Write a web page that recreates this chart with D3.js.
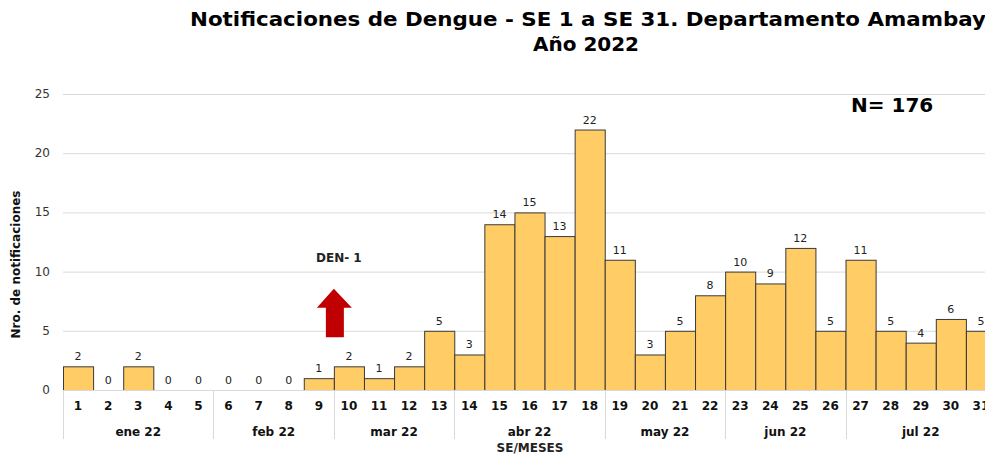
<html>
<head>
<script src="https://d3js.org/d3.v7.min.js"></script>
<style>
  body { margin: 0; background: #fff; }
  svg { display: block; font-family: "DejaVu Sans", Verdana, sans-serif; }
</style>
</head>
<body>
<svg></svg>
<script>
  // semanas epidemiologicas y casos
  const weeks = d3.range(1, 32).map(String);
  const cases = [2,0,2,0,0,0,0,0,1,2,1,2,5,3,14,15,13,22,11,3,5,8,10,9,12,5,11,5,4,6,5];
  const months = ["ene 22","feb 22","mar 22","abr 22","may 22","jun 22","jul 22"];
  const monthWeeks = [5,4,4,5,4,4,5];
  const yTicks = [0,5,10,15,20,25];

  const width = 985, height = 455;
  const plotLeft = 63, plotRight = 996, plotTop = 94, plotBottom = 390;

  const svg = d3.select("svg").attr("width", width).attr("height", height);

  const x = d3.scaleBand().domain(weeks).range([plotLeft, plotRight]).padding(0);
  const y = d3.scaleLinear().domain([0, 25]).range([plotBottom, plotTop]);

  // grid
  svg.append("g").selectAll("line").data(yTicks).join("line")
    .attr("x1", plotLeft).attr("x2", plotRight)
    .attr("y1", d => y(d) + 0.5).attr("y2", d => y(d) + 0.5)
    .attr("stroke", "#d9d9d9").attr("stroke-width", 1);

  svg.append("g").selectAll("text").data(yTicks).join("text")
    .attr("x", 50).attr("y", d => y(d) + 4)
    .attr("text-anchor", "end")
    .attr("font-size", 12).attr("fill", "#333")
    .text(d => d);

  // bars
  svg.append("g").selectAll("rect").data(cases).join("rect")
    .attr("x", (d, i) => x(weeks[i]) + 0.5)
    .attr("y", d => y(d) + 0.5)
    .attr("width", x.bandwidth())
    .attr("height", d => y(0) - y(d))
    .attr("fill", "#ffcc66")
    .attr("stroke", "#3a3a3a").attr("stroke-width", 1)
    .attr("display", d => d > 0 ? null : "none");

  svg.append("g").selectAll("text").data(cases).join("text")
    .attr("x", (d, i) => x(weeks[i]) + x.bandwidth() / 2)
    .attr("y", d => y(d) - 6)
    .attr("text-anchor", "middle")
    .attr("font-size", 11).attr("fill", "#222")
    .text(d => d);

  // category axis
  svg.append("line").attr("x1", plotLeft).attr("x2", plotRight)
    .attr("y1", y(0) + 0.5).attr("y2", y(0) + 0.5)
    .attr("stroke", "#d9d9d9");

  svg.append("g").selectAll("text").data(weeks).join("text")
    .attr("x", d => x(d) + x.bandwidth() / 2)
    .attr("y", 410)
    .attr("text-anchor", "middle")
    .attr("font-size", 12).attr("font-weight", "bold").attr("fill", "#111")
    .text(d => d);

  let start = 0;
  const groups = months.map((m, i) => {
    const g = { name: m, first: weeks[start], last: weeks[start + monthWeeks[i] - 1] };
    start += monthWeeks[i];
    return g;
  });

  svg.append("g").selectAll("line").data(groups).join("line")
    .attr("x1", d => Math.round(x(d.first)) + 0.5).attr("x2", d => Math.round(x(d.first)) + 0.5)
    .attr("y1", y(0)).attr("y2", 439)
    .attr("stroke", "#d9d9d9");

  svg.append("g").selectAll("text").data(groups).join("text")
    .attr("x", d => (x(d.first) + x(d.last) + x.bandwidth()) / 2)
    .attr("y", 436)
    .attr("text-anchor", "middle")
    .attr("font-size", 12).attr("font-weight", "bold").attr("fill", "#111")
    .text(d => d.name);

  // axis titles
  svg.append("text")
    .attr("x", 530).attr("y", 452)
    .attr("text-anchor", "middle")
    .attr("font-size", 12).attr("font-weight", "bold").attr("fill", "#222")
    .text("SE/MESES");

  svg.append("text")
    .attr("transform", "translate(20," + y(10.6) + ") rotate(-90)")
    .attr("text-anchor", "middle")
    .attr("font-size", 12).attr("font-weight", "bold").attr("fill", "#111")
    .text("Nro. de notificaciones");

  // title
  svg.append("text")
    .attr("x", 588).attr("y", 26)
    .attr("text-anchor", "middle")
    .attr("font-size", 19).attr("font-weight", "bold").attr("fill", "#000")
    .attr("textLength", 796).attr("lengthAdjust", "spacingAndGlyphs")
    .text("Notificaciones de Dengue - SE 1 a SE 31. Departamento Amambay");
  svg.append("text")
    .attr("x", 586).attr("y", 51)
    .attr("text-anchor", "middle")
    .attr("font-size", 19).attr("font-weight", "bold").attr("fill", "#000")
    .attr("textLength", 106).attr("lengthAdjust", "spacingAndGlyphs")
    .text("Año 2022");

  svg.append("text")
    .attr("x", 851).attr("y", 112)
    .attr("font-size", 20).attr("font-weight", "bold").attr("fill", "#000")
    .text("N= 176");

  // DEN-1 annotation with arrow at start of week 10
  const ax = x("10");
  svg.append("text")
    .attr("x", ax + 5).attr("y", y(10.8))
    .attr("text-anchor", "middle")
    .attr("font-size", 12).attr("font-weight", "bold").attr("fill", "#222")
    .text("DEN- 1");

  const arrow = [
    [ax, y(8.55)], [ax + 18, y(6.95)], [ax + 10, y(6.95)], [ax + 10, y(4.45)],
    [ax - 8, y(4.45)], [ax - 8, y(6.95)], [ax - 17, y(6.95)]
  ];
  svg.append("path")
    .attr("d", d3.line()(arrow) + "Z")
    .attr("fill", "#c00000");
</script>
</body>
</html>
